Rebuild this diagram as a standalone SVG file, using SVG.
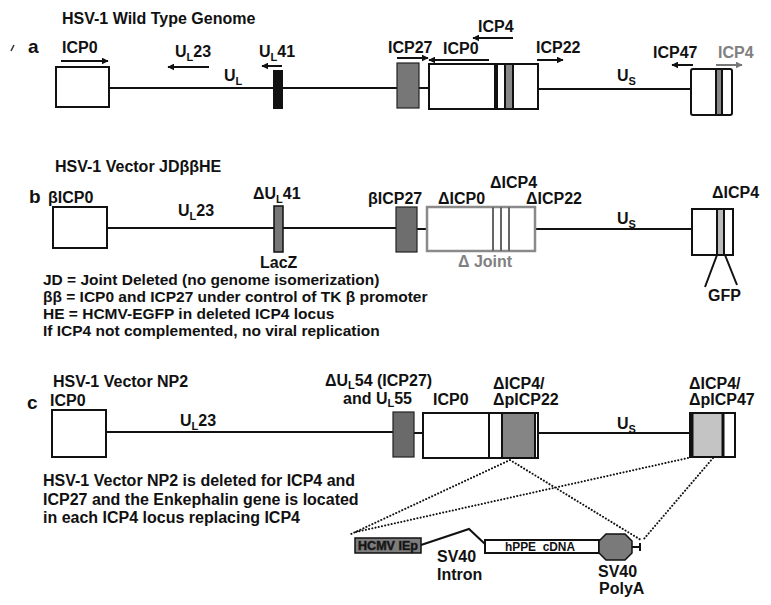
<svg xmlns="http://www.w3.org/2000/svg" width="771" height="605" viewBox="0 0 771 605">
<defs>
<style>
text{font-family:"Liberation Sans",Arial,Helvetica,sans-serif;font-weight:bold;fill:#111;font-size:16px}
.pn{font-size:19px}
.sub{font-size:11px}
.d{font-size:15.5px}
.sm{font-size:12px}
.gt{fill:#808080}
.ln{stroke:#111;stroke-width:2;fill:none}
.box{fill:#fff;stroke:#111;stroke-width:2}
.gbox{fill:#777;stroke:#222;stroke-width:1.2}
.arr{stroke:#111;stroke-width:2;fill:none;marker-end:url(#ah)}
.arrg{stroke:#777;stroke-width:2;fill:none;marker-end:url(#ahg)}
.dot{stroke:#111;stroke-width:2;fill:none;stroke-dasharray:0.1 3.2;stroke-linecap:round}
</style>
<marker id="ah" viewBox="0 0 10 10" refX="9" refY="5" markerWidth="7" markerHeight="7" markerUnits="userSpaceOnUse" orient="auto"><path d="M0,0 L10,5 L0,10 z" fill="#111"/></marker>
<marker id="ahg" viewBox="0 0 10 10" refX="9" refY="5" markerWidth="7" markerHeight="7" markerUnits="userSpaceOnUse" orient="auto"><path d="M0,0 L10,5 L0,10 z" fill="#777"/></marker>
</defs>
<rect width="771" height="605" fill="#fff"/>

<g id="connectors">
  <path class="ln" d="M109,88 H397 M419,88 H429 M538,89 H691"/>
  <path class="ln" stroke-width="2.5" d="M107,228 H396 M417,229 H427 M535,229 H692"/>
  <path class="ln" d="M106,432 H393 M414,433 H423 M538,433 H690"/>
  <path class="ln" stroke-width="1.5" d="M717,255 L705,287 M725,255 L737,285"/>
  <path class="dot" d="M510,460 L349,535 M510,460 L641,540 M688,458 L356,532 M713,458 L643,540"/>
  <polyline class="ln" points="421,545 469,529 485,544"/>
  <path class="ln" stroke-width="1.5" d="M632,547 H640 M640,543 V551"/>
</g>

<g id="panel-a">
  <path d="M11,51 L14,45" stroke="#333" stroke-width="1.5"/>
  <text x="62" y="24">HSV-1 Wild Type Genome</text>
  <text class="pn" x="28" y="53">a</text>
  <g id="a-icp0">
    <text x="62" y="53">ICP0</text>
    <line class="arr" x1="61" y1="61" x2="108" y2="61"/>
    <rect class="box" x="56" y="67" width="53" height="40"/>
  </g>
  <g id="a-ul23">
    <text x="175" y="57">U<tspan class="sub" dy="4">L</tspan><tspan dy="-4">23</tspan></text>
    <line class="arr" x1="209" y1="67" x2="168" y2="67"/>
  </g>
  <text x="224" y="81">U<tspan class="sub" dy="4">L</tspan></text>
  <g id="a-ul41">
    <text x="259" y="57">U<tspan class="sub" dy="4">L</tspan><tspan dy="-4">41</tspan></text>
    <line class="arr" x1="282" y1="66" x2="262" y2="66"/>
    <rect x="273" y="70" width="10" height="39" fill="#111"/>
  </g>
  <g id="a-icp27">
    <text x="388" y="53">ICP27</text>
    <line class="arr" x1="397" y1="58" x2="428" y2="58"/>
    <rect class="gbox" x="397" y="63" width="22" height="45"/>
  </g>
  <g id="a-joint">
    <text x="443" y="54">ICP0</text>
    <line class="arr" x1="489" y1="60" x2="429" y2="60"/>
    <text x="478" y="32">ICP4</text>
    <line class="arr" x1="513" y1="38" x2="473" y2="38"/>
    <rect class="box" x="429" y="64" width="109" height="45"/>
    <rect x="494" y="64" width="4" height="45" fill="#111"/>
    <rect x="505" y="64" width="8" height="45" fill="#888" stroke="#111" stroke-width="2"/>
    <text x="536" y="53">ICP22</text>
    <line class="arr" x1="537" y1="60" x2="563" y2="60"/>
  </g>
  <text x="617" y="81">U<tspan class="sub" dy="4">S</tspan></text>
  <g id="a-us-end">
    <text x="653" y="58">ICP47</text>
    <line class="arr" x1="693" y1="65" x2="672" y2="65"/>
    <text class="gt" x="718" y="58">ICP4</text>
    <line class="arrg" x1="716" y1="65" x2="742" y2="65"/>
    <rect class="box" x="691" y="69" width="41" height="46" rx="2"/>
    <rect x="716" y="69" width="6" height="46" fill="#888" stroke="#111" stroke-width="2"/>
  </g>
</g>

<g id="panel-b">
  <text x="55" y="172">HSV-1 Vector JDββHE</text>
  <text class="pn" x="29" y="203">b</text>
  <g id="b-icp0">
    <text x="48" y="203">βICP0</text>
    <rect class="box" x="53" y="207" width="54" height="41"/>
  </g>
  <text x="178" y="216">U<tspan class="sub" dy="4">L</tspan><tspan dy="-4">23</tspan></text>
  <g id="b-ul41">
    <text x="253" y="199">ΔU<tspan class="sub" dy="4">L</tspan><tspan dy="-4">41</tspan></text>
    <rect x="274" y="206" width="9" height="46" fill="#777" stroke="#111" stroke-width="1.5"/>
    <text x="260" y="268" font-weight="normal" fill="#333">LacZ</text>
  </g>
  <g id="b-legend">
    <text class="d" x="43" y="285">JD = Joint Deleted (no genome isomerization)</text>
    <text class="d" x="43" y="302">ββ = ICP0 and ICP27 under control of TK β promoter</text>
    <text class="d" x="43" y="319">HE = HCMV-EGFP in deleted ICP4 locus</text>
    <text class="d" x="43" y="336">If ICP4 not complemented, no viral replication</text>
  </g>
  <g id="b-icp27">
    <text x="368" y="204">βICP27</text>
    <rect x="396" y="207" width="21" height="45" fill="#6e6e6e" stroke="#222" stroke-width="1.2"/>
  </g>
  <g id="b-joint">
    <text x="438" y="204">ΔICP0</text>
    <text x="490" y="188">ΔICP4</text>
    <text x="526" y="204">ΔICP22</text>
    <rect x="427" y="207" width="108" height="44" fill="#fff" stroke="#8a8a8a" stroke-width="2.5"/>
    <path d="M493,207 V251 M501,207 V251 M509,207 V251" stroke="#666" stroke-width="2"/>
    <text class="gt" x="458" y="267">Δ Joint</text>
  </g>
  <text x="617" y="224">U<tspan class="sub" dy="4">S</tspan></text>
  <g id="b-us-end">
    <text x="712" y="198">ΔICP4</text>
    <rect class="box" x="692" y="209" width="41" height="46"/>
    <rect x="717" y="209" width="7" height="46" fill="#bbb" stroke="#111" stroke-width="2"/>
    <text x="708" y="301">GFP</text>
  </g>
</g>

<g id="panel-c">
  <text x="53" y="387">HSV-1 Vector NP2</text>
  <text class="pn" x="27" y="409" font-size="17px">c</text>
  <g id="c-icp0">
    <text x="50" y="406">ICP0</text>
    <rect class="box" x="52" y="410" width="54" height="47"/>
  </g>
  <text x="180" y="426">U<tspan class="sub" dy="4">L</tspan><tspan dy="-4">23</tspan></text>
  <g id="c-ul54">
    <text x="325" y="386">ΔU<tspan class="sub" dy="3">L</tspan><tspan dy="-3">54 (ICP27)</tspan></text>
    <text x="343" y="404">and U<tspan class="sub" dy="3">L</tspan><tspan dy="-3">55</tspan></text>
    <rect x="393" y="412" width="21" height="45" fill="#6a6a6a" stroke="#222" stroke-width="1.2"/>
  </g>
  <g id="c-joint">
    <text x="433" y="405">ICP0</text>
    <text x="493" y="389">ΔICP4/</text>
    <text x="493" y="405">ΔpICP22</text>
    <rect class="box" x="423" y="413" width="115" height="45"/>
    <line x1="489" y1="413" x2="489" y2="458" stroke="#111" stroke-width="2"/>
    <rect x="502" y="413" width="33" height="45" fill="#858585" stroke="#111" stroke-width="2"/>
  </g>
  <text x="617" y="429">U<tspan class="sub" dy="4">S</tspan></text>
  <g id="c-us-end">
    <text x="689" y="389">ΔICP4/</text>
    <text x="689" y="405">ΔpICP47</text>
    <rect class="box" x="690" y="413" width="45" height="44"/>
    <rect x="692" y="414" width="31" height="42" fill="#c4c4c4"/>
    <path d="M692,413 V457 M723,413 V457" stroke="#111" stroke-width="3"/>
  </g>
  <g id="c-legend">
    <text x="43" y="486">HSV-1 Vector NP2 is deleted for ICP4 and</text>
    <text x="43" y="505">ICP27 and the Enkephalin gene is located</text>
    <text x="43" y="523">in each ICP4 locus replacing ICP4</text>
  </g>
  <g id="c-hcmv">
    <rect x="355" y="538" width="66" height="15" fill="#7d7d7d" stroke="#111" stroke-width="1.5"/>
    <text class="sm" x="358" y="550" fill="#eee" stroke="#222" stroke-width="0.5" textLength="60" lengthAdjust="spacingAndGlyphs">HCMV IEp</text>
  </g>
  <g id="c-intron">
    <text x="437" y="562">SV40</text>
    <text x="437" y="580">Intron</text>
  </g>
  <g id="c-cdna">
    <rect x="485" y="540" width="114" height="13" fill="#fff" stroke="#111" stroke-width="2"/>
    <text class="sm" x="505" y="551" xml:space="preserve" textLength="70" lengthAdjust="spacingAndGlyphs">hPPE  cDNA</text>
  </g>
  <g id="c-polya">
    <polygon points="606,534 625,534 632,541 632,553 625,560 606,560 599,553 599,541" fill="#7a7a7a" stroke="#111" stroke-width="1.5"/>
    <text x="598" y="577">SV40</text>
    <text x="599" y="594">PolyA</text>
  </g>
</g>
</svg>
